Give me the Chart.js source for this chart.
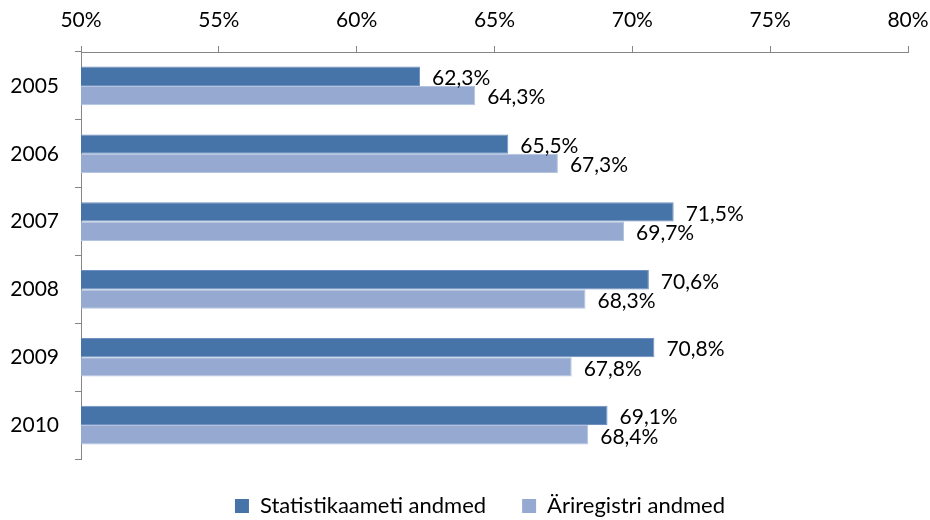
<!DOCTYPE html>
<html>
<head>
<meta charset="utf-8">
<script src="https://cdn.jsdelivr.net/npm/chart.js@4"></script>
<style>
  html, body { margin: 0; padding: 0; background: #fff; }
  #wrap { width: 930px; height: 520px; }
</style>
</head>
<body>
<div id="wrap"><canvas id="chart" width="930" height="520"></canvas></div>
<script>
const years = ['2005', '2006', '2007', '2008', '2009', '2010'];
const statistikaamet = [62.3, 65.5, 71.5, 70.6, 70.8, 69.1];
const ariregister = [64.3, 67.3, 69.7, 68.3, 67.8, 68.4];
const seriesNames = ['Statistikaameti andmed', 'Äriregistri andmed'];

const axisGray = '#868686';
const font = 'Lato, "Open Sans", sans-serif';

// labels like "62,3%" just right of each bar end
const barLabels = {
    id: 'barLabels',
    afterDatasetsDraw(chart) {
        const ctx = chart.ctx;
        ctx.save();
        ctx.font = '21px ' + font;
        ctx.fillStyle = '#000';
        ctx.textBaseline = 'middle';
        ctx.textAlign = 'left';
        chart.data.datasets.forEach((ds, i) => {
            const meta = chart.getDatasetMeta(i);
            meta.data.forEach((bar, j) => {
                const txt = ds.data[j].toFixed(1).replace('.', ',') + '%';
                ctx.fillText(txt, bar.x + 12, bar.y + 2);
            });
        });
        ctx.restore();
    }
};

// keep the legend strip a fixed height under the plot, nudged right
const legendBox = {
    id: 'legendBox',
    afterInit(chart) {
        const lg = chart.legend;
        if (!lg) return;
        const fit = lg.fit.bind(lg);
        lg.fit = function () {
            fit();
            this.height = 61;
        };
    },
    afterLayout(chart) {
        const lg = chart.legend;
        if (!lg) return;
        lg.left += 26;
        lg.right += 26;
    }
};

const ctx = document.getElementById('chart');

new Chart(ctx, {
    type: 'bar',
    data: {
        labels: years,
        datasets: [{
            label: seriesNames[0],
            data: statistikaamet,
            backgroundColor: '#4673A8',
            borderColor: '#6E90BE',
            borderWidth: 1,
            categoryPercentage: 0.57,
            barPercentage: 1
        }, {
            label: seriesNames[1],
            data: ariregister,
            backgroundColor: '#95A9D1',
            borderColor: '#B3C3E0',
            borderWidth: 1,
            categoryPercentage: 0.57,
            barPercentage: 1
        }]
    },
    options: {
        indexAxis: 'y',
        responsive: false,
        animation: false,
        layout: { padding: { left: 0, right: 22, top: 0, bottom: 0 } },
        scales: {
            x: {
                position: 'top',
                min: 50,
                max: 80,
                ticks: {
                    stepSize: 5,
                    color: '#000',
                    font: { family: font, size: 21 },
                    padding: 13,
                    callback: v => v + '%'
                },
                grid: { drawOnChartArea: false, drawTicks: true, tickLength: 6, color: axisGray },
                border: { display: true, color: axisGray, width: 1 },
                afterFit: s => {
                    s.height = 52;
                    s.paddingLeft = 0;
                    s.paddingRight = 0;
                }
            },
            y: {
                ticks: {
                    color: '#000',
                    font: { family: font, size: 21 },
                    padding: 16
                },
                grid: { drawOnChartArea: false, drawTicks: true, tickLength: 6, color: axisGray, offset: true },
                border: { display: true, color: axisGray, width: 1 },
                afterFit: s => { s.width = 81; }
            }
        },
        plugins: {
            legend: {
                position: 'bottom',
                labels: {
                    color: '#000',
                    font: { family: font, size: 22 },
                    boxWidth: 14,
                    boxHeight: 14,
                    padding: 36,
                    generateLabels: chart => chart.data.datasets.map((ds, i) => ({
                        text: ds.label,
                        fillStyle: ds.backgroundColor,
                        strokeStyle: ds.backgroundColor,
                        lineWidth: 0,
                        datasetIndex: i
                    }))
                }
            },
            tooltip: { enabled: false }
        }
    },
    plugins: [barLabels, legendBox]
});
</script>
</body>
</html>
